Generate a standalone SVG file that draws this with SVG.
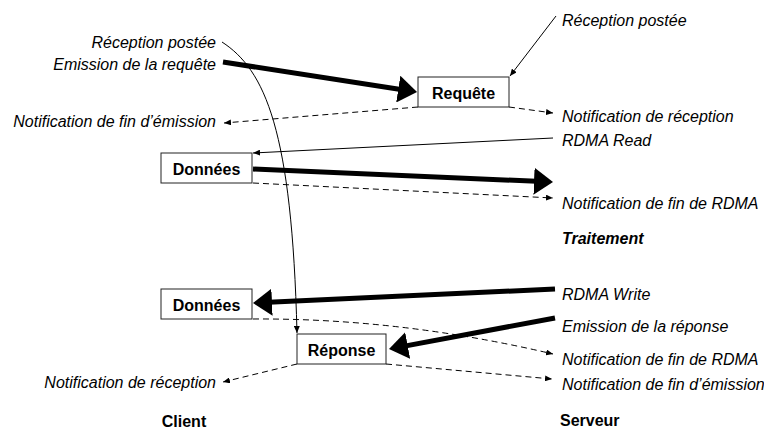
<svg xmlns="http://www.w3.org/2000/svg" width="764" height="430" viewBox="0 0 764 430">
<defs>
<style>
.lbl{font-family:"Liberation Sans",Arial,sans-serif;font-size:16px;font-style:italic;fill:#000}
.bold{font-family:"Liberation Sans",Arial,sans-serif;font-size:16px;font-weight:bold;fill:#000}
.box{fill:#fff;stroke:#222;stroke-width:1}
.thick{fill:none;stroke:#000;stroke-width:5;marker-end:url(#big)}
.thin{fill:none;stroke:#000;stroke-width:1;marker-end:url(#small)}
.dash{fill:none;stroke:#000;stroke-width:1;stroke-dasharray:6,4;marker-end:url(#small)}
</style>
<marker id="big" viewBox="0 0 19 27" markerWidth="19" markerHeight="27" refX="14" refY="13.5" markerUnits="userSpaceOnUse" orient="auto">
<path d="M0,0 L19,13.5 L0,27 z" fill="#000"/>
</marker>
<marker id="small" viewBox="0 0 7 6" markerWidth="7" markerHeight="6" refX="7" refY="3" markerUnits="userSpaceOnUse" orient="auto">
<path d="M0,0 L7,3 L0,6 z" fill="#000"/>
</marker>
</defs>

<g id="connectors">
<path class="thin" d="M222,42 C265,70 292,130 297,333"/>
<path class="thick" d="M223,62 L412.1,91.2"/>
<path class="thin" d="M556,16 L510,76"/>
<path class="dash" d="M418,107 L224,123"/>
<path class="dash" d="M509,107 L553,113"/>
<path class="thin" d="M553,138 L253,153"/>
<path class="thick" d="M253,169 L548,181.8"/>
<path class="dash" d="M253,183 L553,198"/>
<path class="thick" d="M555,289 L258,302.8"/>
<path class="thick" d="M555,318 L393.9,348.1"/>
<path class="dash" d="M253,319 Q400,318 553,354"/>
<path class="dash" d="M386,364 L552,379"/>
<path class="dash" d="M297,364 L223,382"/>
</g>

<g id="node-requete">
<rect class="box" x="418" y="77" width="91" height="30"/>
<text class="bold" x="463.5" y="99" text-anchor="middle">Requête</text>
</g>
<g id="node-donnees1">
<rect class="box" x="161" y="153" width="91" height="30"/>
<text class="bold" x="206.5" y="175" text-anchor="middle">Données</text>
</g>
<g id="node-donnees2">
<rect class="box" x="161" y="289" width="91" height="30"/>
<text class="bold" x="206.5" y="311" text-anchor="middle">Données</text>
</g>
<g id="node-reponse">
<rect class="box" x="297" y="334" width="89" height="30"/>
<text class="bold" x="341.5" y="356" text-anchor="middle">Réponse</text>
</g>

<g id="labels-client">
<text class="lbl" x="216" y="48" text-anchor="end">Réception postée</text>
<text class="lbl" x="216" y="70" text-anchor="end">Emission de la requête</text>
<text class="lbl" x="216" y="127" text-anchor="end">Notification de fin d’émission</text>
<text class="lbl" x="216" y="388" text-anchor="end">Notification de réception</text>
<text class="bold" x="184" y="427" text-anchor="middle">Client</text>
</g>
<g id="labels-serveur">
<text class="lbl" x="562" y="26">Réception postée</text>
<text class="lbl" x="562" y="122">Notification de réception</text>
<text class="lbl" x="562" y="146">RDMA Read</text>
<text class="lbl" x="562" y="209">Notification de fin de RDMA</text>
<text class="bold" x="562" y="244" font-style="italic">Traitement</text>
<text class="lbl" x="562" y="300">RDMA Write</text>
<text class="lbl" x="562" y="332">Emission de la réponse</text>
<text class="lbl" x="562" y="365">Notification de fin de RDMA</text>
<text class="lbl" x="562" y="390">Notification de fin d’émission</text>
<text class="bold" x="560" y="426">Serveur</text>
</g>
</svg>
